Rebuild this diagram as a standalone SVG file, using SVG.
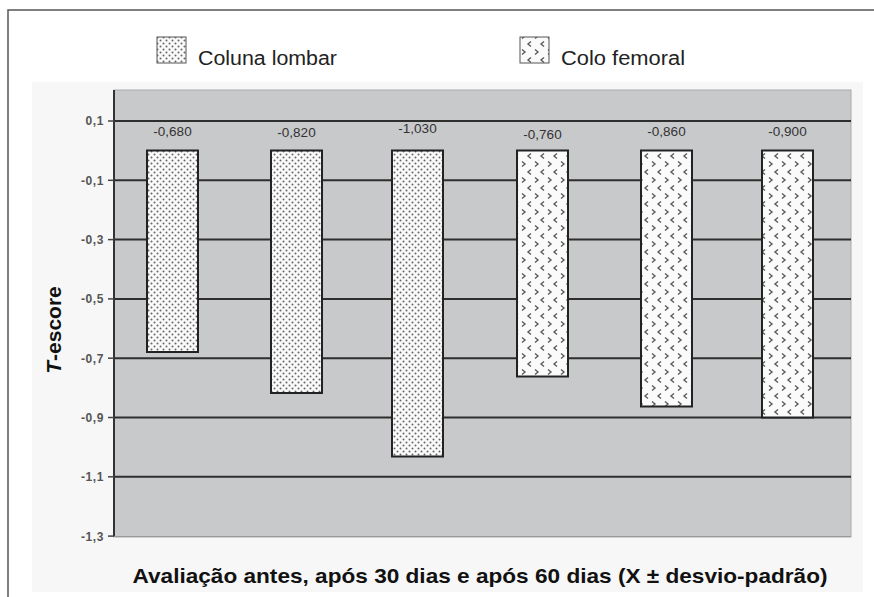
<svg xmlns="http://www.w3.org/2000/svg" width="874" height="597" viewBox="0 0 874 597">
<defs>
<style>
.grid{stroke:#2e2e2e;stroke-width:2}
.tick{stroke:#444;stroke-width:1.5}
.ylab{font-family:"Liberation Sans",Arial,sans-serif;font-size:12px;font-weight:bold;fill:#555;text-anchor:end;letter-spacing:0.6px}
.val{font-family:"Liberation Sans",Arial,sans-serif;font-size:13.5px;fill:#333;text-anchor:middle}
.leg{font-family:"Liberation Sans",Arial,sans-serif;font-size:20px;fill:#222}
.bar{stroke:#222;stroke-width:2}
.title{font-family:"Liberation Sans",Arial,sans-serif;font-size:21px;font-weight:bold;fill:#111}
</style>
<pattern id="dots" width="6" height="6" patternUnits="userSpaceOnUse">
<rect width="6" height="6" fill="#fafafa"/>
<circle cx="1.5" cy="1.5" r="1" fill="#666"/>
<circle cx="4.5" cy="4.5" r="1" fill="#666"/>
</pattern>
<pattern id="chev" width="13" height="16" patternUnits="userSpaceOnUse">
<rect width="13" height="16" fill="#fafafa"/>
<path d="M2,1.5 L5,4 L2,6.5 M11,9.5 L8,12 L11,14.5" fill="none" stroke="#5a5a5a" stroke-width="1.4"/>
</pattern>
</defs>
<rect width="874" height="597" fill="#fff"/>
<path d="M8,597 V10 H874" fill="none" stroke="#555" stroke-width="1.5"/>
<rect x="32" y="82" width="831" height="510" fill="#f7f7f7"/>

<g id="legend">
<g id="legend-lombar">
<rect x="157" y="37" width="29" height="26" fill="url(#dots)" stroke="#555" stroke-width="1"/>
<text class="leg" x="198" y="65" textLength="139" lengthAdjust="spacingAndGlyphs">Coluna lombar</text>
</g>
<g id="legend-femoral">
<rect x="520" y="37" width="29" height="26" fill="url(#chev)" stroke="#555" stroke-width="1"/>
<text class="leg" x="561" y="65" textLength="124" lengthAdjust="spacingAndGlyphs">Colo femoral</text>
</g>
</g>

<g id="plot">
<rect x="114" y="90" width="737" height="447" fill="#c8c9cb" stroke="#aaa" stroke-width="1"/>
<g id="gridlines">
<line class="grid" x1="114" y1="121" x2="851" y2="121"/>
<line class="grid" x1="114" y1="180.3" x2="851" y2="180.3"/>
<line class="grid" x1="114" y1="239.6" x2="851" y2="239.6"/>
<line class="grid" x1="114" y1="298.9" x2="851" y2="298.9"/>
<line class="grid" x1="114" y1="358.2" x2="851" y2="358.2"/>
<line class="grid" x1="114" y1="417.5" x2="851" y2="417.5"/>
<line class="grid" x1="114" y1="476.8" x2="851" y2="476.8"/>
</g>
<line x1="114" y1="90" x2="114" y2="537" stroke="#333" stroke-width="2"/>
<line x1="114" y1="536.5" x2="851" y2="536.5" stroke="#999" stroke-width="1"/>
<g id="ticks">
<line class="tick" x1="108" y1="121" x2="114" y2="121"/>
<line class="tick" x1="108" y1="180.3" x2="114" y2="180.3"/>
<line class="tick" x1="108" y1="239.6" x2="114" y2="239.6"/>
<line class="tick" x1="108" y1="298.9" x2="114" y2="298.9"/>
<line class="tick" x1="108" y1="358.2" x2="114" y2="358.2"/>
<line class="tick" x1="108" y1="417.5" x2="114" y2="417.5"/>
<line class="tick" x1="108" y1="476.8" x2="114" y2="476.8"/>
<line class="tick" x1="108" y1="536.1" x2="114" y2="536.1"/>
</g>
<g id="ylabels">
<text class="ylab" x="104" y="125">0,1</text>
<text class="ylab" x="104" y="184.5">-0,1</text>
<text class="ylab" x="104" y="244">-0,3</text>
<text class="ylab" x="104" y="303">-0,5</text>
<text class="ylab" x="104" y="362.5">-0,7</text>
<text class="ylab" x="104" y="422">-0,9</text>
<text class="ylab" x="104" y="481">-1,1</text>
<text class="ylab" x="104" y="540.5">-1,3</text>
</g>
</g>

<g id="bar1"><rect class="bar" x="147" y="150.5" width="51" height="201.5" fill="url(#dots)"/><text class="val" x="172.5" y="136">-0,680</text></g>
<g id="bar2"><rect class="bar" x="271" y="150.5" width="51" height="242.5" fill="url(#dots)"/><text class="val" x="296.5" y="137">-0,820</text></g>
<g id="bar3"><rect class="bar" x="392" y="150.5" width="51" height="306" fill="url(#dots)"/><text class="val" x="417.5" y="133">-1,030</text></g>
<g id="bar4"><rect class="bar" x="517" y="150.5" width="51" height="226" fill="url(#chev)"/><text class="val" x="542.5" y="139">-0,760</text></g>
<g id="bar5"><rect class="bar" x="641" y="150.5" width="51" height="256" fill="url(#chev)"/><text class="val" x="666.5" y="136">-0,860</text></g>
<g id="bar6"><rect class="bar" x="762" y="150.5" width="51" height="267" fill="url(#chev)"/><text class="val" x="787.5" y="136">-0,900</text></g>

<text class="title" transform="translate(61,330) rotate(-90)" text-anchor="middle" font-size="20"><tspan font-style="italic">T</tspan>-escore</text>
<text class="title" x="480" y="583" text-anchor="middle" textLength="695" lengthAdjust="spacingAndGlyphs">Avaliação antes, após 30 dias e após 60 dias (X ± desvio-padrão)</text>
</svg>
